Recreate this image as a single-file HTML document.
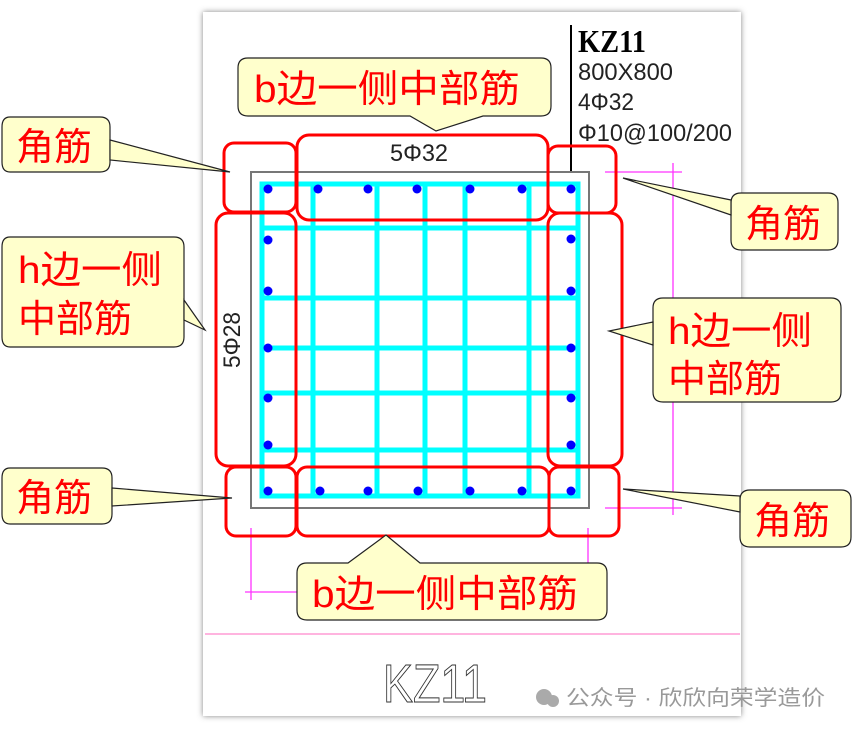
<!DOCTYPE html>
<html><head><meta charset="utf-8"><style>
body{margin:0;background:#fff;width:853px;height:731px;overflow:hidden}
svg{display:block}
.cn{font-family:"Liberation Sans","Noto Sans CJK SC",sans-serif;fill:#f00}
</style></head><body>
<svg width="853" height="731" viewBox="0 0 853 731" xmlns="http://www.w3.org/2000/svg">
<defs><filter id="sh" x="-5%" y="-5%" width="110%" height="110%"><feDropShadow dx="0" dy="0" stdDeviation="3" flood-color="#666" flood-opacity="0.8"/></filter></defs>
<rect x="203" y="12" width="538" height="704" fill="#fff" filter="url(#sh)"/>
<line x1="571" y1="25" x2="571" y2="172" stroke="#000" stroke-width="2"/>
<text x="578" y="52" font-family="Liberation Serif,serif" font-weight="bold" font-size="32" fill="#000" textLength="68" lengthAdjust="spacingAndGlyphs">KZ11</text>
<g font-family="Liberation Sans Narrow,Liberation Sans,sans-serif" font-size="24" fill="#222">
<text x="578" y="80" textLength="95" lengthAdjust="spacingAndGlyphs">800X800</text>
<text x="578" y="110" textLength="56" lengthAdjust="spacingAndGlyphs">4Φ32</text>
<text x="578" y="141" textLength="154" lengthAdjust="spacingAndGlyphs">Φ10@100/200</text>
<text x="390" y="161" textLength="58" lengthAdjust="spacingAndGlyphs">5Φ32</text>
<text transform="translate(240,368) rotate(-90)" textLength="56" lengthAdjust="spacingAndGlyphs">5Φ28</text>
</g>
<text transform="translate(660,322) rotate(90)" font-family="Liberation Sans Narrow,sans-serif" font-size="24" fill="#888855" textLength="36" lengthAdjust="spacingAndGlyphs">800</text>
<text x="402" y="584" font-family="Liberation Sans Narrow,sans-serif" font-size="24" fill="#777744" textLength="36" lengthAdjust="spacingAndGlyphs">800</text>
<g stroke="#f3f" stroke-width="1.3">
<line x1="605" y1="172" x2="682" y2="172"/><line x1="673" y1="163" x2="673" y2="515"/><line x1="605" y1="508" x2="682" y2="508"/>
<line x1="245" y1="592" x2="607" y2="592"/><line x1="251" y1="528" x2="251" y2="600"/><line x1="588" y1="528" x2="588" y2="600"/>
<line x1="205" y1="634" x2="740" y2="634" stroke="#f8c"/>
</g>
<rect x="251" y="172" width="338" height="336" fill="none" stroke="#777" stroke-width="2"/>
<g stroke="#0ff" stroke-width="5" fill="none">
<rect x="262" y="184" width="316" height="312"/>
<line x1="313" y1="184" x2="313" y2="496"/><line x1="377" y1="184" x2="377" y2="496"/><line x1="425" y1="184" x2="425" y2="496"/><line x1="465" y1="184" x2="465" y2="496"/><line x1="529" y1="184" x2="529" y2="496"/>
<line x1="262" y1="228" x2="578" y2="228"/><line x1="262" y1="298" x2="578" y2="298"/><line x1="262" y1="348" x2="578" y2="348"/><line x1="262" y1="393" x2="578" y2="393"/><line x1="262" y1="450" x2="578" y2="450"/>
</g>
<g fill="#00f">
<circle cx="268" cy="189" r="4.5"/><circle cx="318" cy="189" r="4.5"/><circle cx="368" cy="189" r="4.5"/><circle cx="417" cy="189" r="4.5"/><circle cx="470" cy="189" r="4.5"/><circle cx="522" cy="189" r="4.5"/><circle cx="571" cy="189" r="4.5"/>
<circle cx="268" cy="240" r="4.5"/><circle cx="268" cy="291" r="4.5"/><circle cx="268" cy="348" r="4.5"/><circle cx="268" cy="398" r="4.5"/><circle cx="268" cy="445" r="4.5"/><circle cx="268" cy="491" r="4.5"/>
<circle cx="571" cy="239" r="4.5"/><circle cx="571" cy="291" r="4.5"/><circle cx="571" cy="348" r="4.5"/><circle cx="571" cy="398" r="4.5"/><circle cx="571" cy="445" r="4.5"/><circle cx="571" cy="491" r="4.5"/>
<circle cx="320" cy="491" r="4.5"/><circle cx="368" cy="491" r="4.5"/><circle cx="418" cy="491" r="4.5"/><circle cx="470" cy="491" r="4.5"/><circle cx="522" cy="491" r="4.5"/>
</g>
<g fill="none" stroke="#f00" stroke-width="3">
<rect x="224" y="143" width="72" height="69" rx="10"/>
<rect x="297" y="135" width="251" height="85" rx="12"/>
<rect x="548" y="146" width="68" height="67" rx="10"/>
<rect x="216" y="213" width="80" height="253" rx="12"/>
<rect x="548" y="213" width="74" height="253" rx="12"/>
<rect x="226" y="467" width="70" height="69" rx="10"/>
<rect x="297" y="467" width="252" height="69" rx="10"/>
<rect x="549" y="467" width="70" height="69" rx="10"/>
</g>
<g fill="#ffffcc" stroke="#222" stroke-width="1.2">
<path d="M248,58 H541 Q551,58 551,68 V106 Q551,116 541,116 H483 L436,131 L410,116 H248 Q238,116 238,106 V68 Q238,58 248,58 Z"/>
<path d="M10,117 H100 Q110,117 110,127 V162 Q110,172 100,172 H10 Q2,172 2,162 V127 Q2,117 10,117 Z"/>
<path d="M110,140 L230,172 L110,160 Z"/>
<path d="M10,237 H174 Q184,237 184,247 V337 Q184,347 174,347 H10 Q2,347 2,337 V247 Q2,237 10,237 Z"/>
<path d="M184,300 L205,330 L184,320 Z"/>
<path d="M741,193 H828 Q838,193 838,203 V240 Q838,250 828,250 H741 Q731,250 731,240 V203 Q731,193 741,193 Z"/>
<path d="M731,200 L623,178 L731,215 Z"/>
<path d="M663,298 H831 Q841,298 841,308 V392 Q841,402 831,402 H663 Q653,402 653,392 V308 Q653,298 663,298 Z"/>
<path d="M653,322 L609,331 L653,345 Z"/>
<path d="M10,468 H102 Q112,468 112,478 V514 Q112,524 102,524 H10 Q2,524 2,514 V478 Q2,468 10,468 Z"/>
<path d="M112,488 L232,498 L112,506 Z"/>
<path d="M750,490 H841 Q851,490 851,500 V537 Q851,547 841,547 H750 Q740,547 740,537 V500 Q740,490 750,490 Z"/>
<path d="M740,496 L623,489 L740,512 Z"/>
<path d="M307,563 H348 L386,535 L420,563 H597 Q607,563 607,573 V610 Q607,620 597,620 H307 Q297,620 297,610 V573 Q297,563 307,563 Z"/>
</g>
<g class="cn" font-size="38">
<text x="254" y="102" textLength="266" lengthAdjust="spacingAndGlyphs">b边一侧中部筋</text>
<text x="16" y="160">角筋</text>
<text x="18" y="283" textLength="144" lengthAdjust="spacingAndGlyphs">h边一侧</text>
<text x="18" y="332">中部筋</text>
<text x="745" y="237">角筋</text>
<text x="668" y="344" textLength="144" lengthAdjust="spacingAndGlyphs">h边一侧</text>
<text x="668" y="392">中部筋</text>
<text x="16" y="511">角筋</text>
<text x="754" y="534">角筋</text>
<text x="312" y="607" textLength="266" lengthAdjust="spacingAndGlyphs">b边一侧中部筋</text>
</g>
<text x="383" y="702" font-family="Liberation Sans,sans-serif" font-size="54" fill="none" stroke="#333" stroke-width="1" textLength="104" lengthAdjust="spacingAndGlyphs">KZ11</text>
<g fill="#aaa"><circle cx="544" cy="697" r="8"/><circle cx="553" cy="701" r="6"/></g>
<text x="566" y="705" font-family="Liberation Sans,Noto Sans CJK SC,sans-serif" font-size="21" fill="#999" textLength="259" lengthAdjust="spacingAndGlyphs">公众号 · 欣欣向荣学造价</text>
</svg>
</body></html>
